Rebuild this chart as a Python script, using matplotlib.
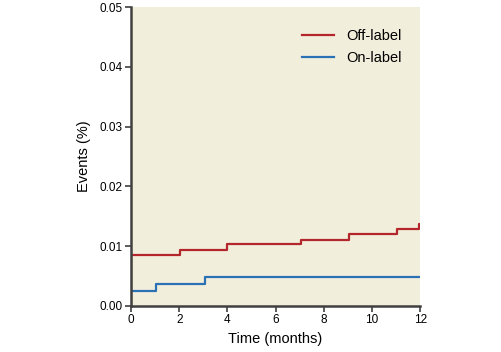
import matplotlib
matplotlib.use("Agg")
import matplotlib.pyplot as plt

plt.rcParams['font.family'] = ['Liberation Sans', 'DejaVu Sans']

# step data (time in months, cumulative events)
off_t = [0, 0, 2.05, 4.0, 7.05, 9.05, 11.05, 11.95, 12]
off_y = [0.0, 0.0085, 0.0093, 0.0103, 0.0111, 0.0120, 0.0129, 0.0137, 0.0137]
on_t = [0, 1.05, 3.05, 12]
on_y = [0.0025, 0.0037, 0.0048, 0.0048]

xticks = [0, 2, 4, 6, 8, 10, 12]
yticks = [0.00, 0.01, 0.02, 0.03, 0.04, 0.05]

fig = plt.figure(figsize=(5.02, 3.52), dpi=100)
ax = fig.add_axes([0.261, 0.1307, 0.576, 0.8494])
ax.set_facecolor('#f2eedc')

ax.step(off_t, off_y, where='post', color='#b3262b', lw=1.6, label='Off-label')
ax.step(on_t, on_y, where='post', color='#2a72b5', lw=1.6, label='On-label')

ax.set_xlim(0, 12)
ax.set_ylim(0, 0.05)
ax.set_xticks(xticks)
ax.set_yticks(yticks)
ax.set_yticklabels(['%.2f' % v for v in yticks])
ax.tick_params(labelsize=8.5, length=4, width=1.2, color='#404040', pad=2)

for s in ['top', 'right']:
	ax.spines[s].set_visible(False)
for s in ['left', 'bottom']:
	ax.spines[s].set_color('#404040')
	ax.spines[s].set_linewidth(1.8)

ax.set_xlabel('Time (months)', fontsize=10.5, labelpad=4)
ax.set_ylabel('Events (%)', fontsize=10.5, labelpad=6)

ax.legend(loc='upper right', frameon=False, fontsize=10.5, handlelength=2.2,
	handletextpad=0.8, labelspacing=0.55, bbox_to_anchor=(0.98, 0.97))

fig.savefig('out.png', dpi=100)
